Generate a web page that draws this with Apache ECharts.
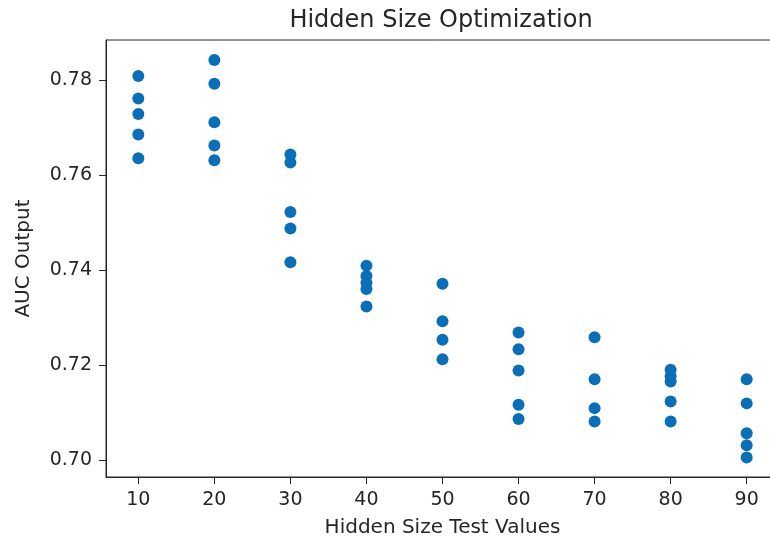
<!DOCTYPE html>
<html>
<head>
<meta charset="utf-8">
<script src="https://cdn.jsdelivr.net/npm/echarts@6/dist/echarts.min.js"></script>
<style>
  html, body { margin: 0; padding: 0; background: #ffffff; }
  #chart { width: 770px; height: 541px; }
</style>
</head>
<body>
<div id="chart"></div>
<script>
// Hidden sizes that were tested
const hiddenSizes = [10, 20, 30, 40, 50, 60, 70, 80, 90];

// AUC results per hidden size (one value per run)
const auc10 = [0.7808, 0.7761, 0.7728, 0.7685, 0.7635];
const auc20 = [0.7842, 0.7792, 0.7711, 0.7662, 0.7631];
const auc30 = [0.7643, 0.7626, 0.7522, 0.7487, 0.7416];
const auc40 = [0.7409, 0.7387, 0.7373, 0.7360, 0.7323];
const auc50 = [0.7371, 0.7292, 0.7253, 0.7212];
const auc60 = [0.7268, 0.7233, 0.7188, 0.7116, 0.7086];
const auc70 = [0.7258, 0.7170, 0.7109, 0.7081];
const auc80 = [0.7190, 0.7176, 0.7165, 0.7123, 0.7081];
const auc90 = [0.7170, 0.7119, 0.7056, 0.7031, 0.7005];

// Tick labels
const xTicks = [10, 20, 30, 40, 50, 60, 70, 80, 90];
const yTicks = [0.70, 0.72, 0.74, 0.76, 0.78];

const aucRuns = [auc10, auc20, auc30, auc40, auc50, auc60, auc70, auc80, auc90];
const points = [];
hiddenSizes.forEach((h, i) => {
  aucRuns[i].forEach(v => points.push([h, v]));
});

const font = 'DejaVu Sans';
const ink = '#262626';

const chart = echarts.init(document.getElementById('chart'), null, { renderer: 'canvas' });
chart.setOption({
  backgroundColor: '#ffffff',
  animation: false,
  title: {
    text: 'Hidden Size Optimization',
    left: 436,
    textAlign: 'center',
    top: 4,
    textStyle: { fontFamily: font, fontSize: 24, fontWeight: 'normal', color: ink }
  },
  // plot frame runs past the right edge of the canvas
  grid: {
    left: 106, top: 40, width: 673, bottom: 64,
    outerBoundsMode: 'none',
    containLabel: false,
    show: true, borderColor: ink, borderWidth: 1, backgroundColor: 'transparent'
  },
  xAxis: {
    type: 'value',
    min: 5.75, max: 94.25,
    name: 'Hidden Size Test Values',
    nameLocation: 'middle',
    nameGap: 41,
    nameTextStyle: { fontFamily: font, fontSize: 20, color: ink },
    axisLine: { show: true, onZero: false, lineStyle: { color: ink, width: 1 } },
    axisTick: { show: true, length: 7, lineStyle: { color: ink }, customValues: xTicks },
    axisLabel: { fontFamily: font, fontSize: 19, color: ink, margin: 14, customValues: xTicks },
    splitLine: { show: false }
  },
  yAxis: {
    type: 'value',
    min: 0.6964, max: 0.7884,
    name: 'AUC Output',
    nameLocation: 'middle',
    nameGap: 72,
    nameTextStyle: { fontFamily: font, fontSize: 20, color: ink },
    axisLine: { show: true, onZero: false, lineStyle: { color: ink, width: 1 } },
    axisTick: { show: true, length: 7, lineStyle: { color: ink }, customValues: yTicks },
    axisLabel: {
      fontFamily: font, fontSize: 19, color: ink, margin: 14,
      customValues: yTicks,
      formatter: v => v.toFixed(2)
    },
    splitLine: { show: false }
  },
  series: [{
    type: 'scatter',
    data: points,
    symbol: 'circle',
    symbolSize: 12,
    itemStyle: { color: '#0b6fb8', opacity: 1 }
  }]
});
</script>
</body>
</html>
